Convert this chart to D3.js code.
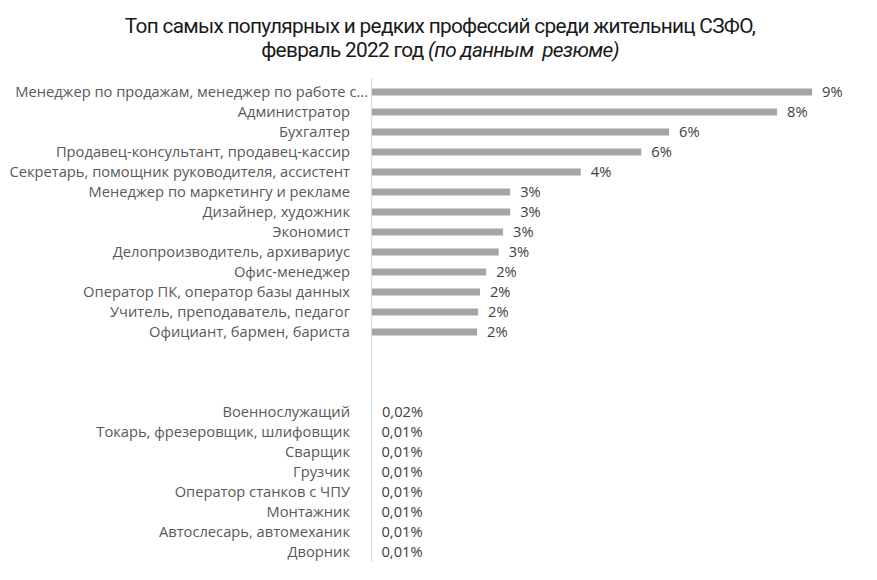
<!DOCTYPE html>
<html>
<head>
<meta charset="utf-8">
<script src="https://cdn.jsdelivr.net/npm/d3@7"></script>
<style>
  body { margin: 0; background: #fff; }
</style>
</head>
<body>
<script>
// top professions, then a gap, then the rarest ones
const professions = [
  'Менеджер по продажам, менеджер по работе с...',
  'Администратор',
  'Бухгалтер',
  'Продавец-консультант, продавец-кассир',
  'Секретарь, помощник руководителя, ассистент',
  'Менеджер по маркетингу и рекламе',
  'Дизайнер, художник',
  'Экономист',
  'Делопроизводитель, архивариус',
  'Офис-менеджер',
  'Оператор ПК, оператор базы данных',
  'Учитель, преподаватель, педагог',
  'Официант, бармен, бариста',
  '', '', '',
  'Военнослужащий',
  'Токарь, фрезеровщик, шлифовщик',
  'Сварщик',
  'Грузчик',
  'Оператор станков с ЧПУ',
  'Монтажник',
  'Автослесарь, автомеханик',
  'Дворник'
];
const shares = [
  9.19, 8.46, 6.21, 5.63, 4.37, 2.90, 2.90, 2.75, 2.66, 2.40, 2.27, 2.23, 2.21,
  null, null, null,
  0.02, 0.01, 0.01, 0.01, 0.01, 0.01, 0.01, 0.01
];
const valueLabels = [
  '9%', '8%', '6%', '6%', '4%', '3%', '3%', '3%', '3%', '2%', '2%', '2%', '2%',
  '', '', '',
  '0,02%', '0,01%', '0,01%', '0,01%', '0,01%', '0,01%', '0,01%', '0,01%'
];

const width = 877, height = 580;
const svg = d3.select('body').append('svg')
  .attr('width', width)
  .attr('height', height);

const x = d3.scaleLinear().domain([0, 10]).range([371, 851]);
const y = d3.scaleBand()
  .domain(d3.range(professions.length))
  .range([82, 562])
  .paddingInner(0.65)
  .paddingOuter(0.325);

// title
const title = svg.append('text')
  .attr('text-anchor', 'middle')
  .attr('font-family', 'Roboto, sans-serif')
  .attr('font-size', 20.8)
  .attr('fill', '#1a1a1a')
  .attr('letter-spacing', -0.7)
  .style('white-space', 'pre');
title.append('tspan').attr('x', 440).attr('y', 33)
  .text('Топ самых популярных и редких профессий среди жительниц СЗФО,');
const t2 = title.append('tspan').attr('x', 440).attr('y', 57);
t2.append('tspan').text('февраль 2022 год ');
t2.append('tspan').attr('font-style', 'italic').text('(по данным  резюме)');

// bars
const rows = d3.range(professions.length).filter(i => shares[i] !== null);
svg.append('g').selectAll('rect')
  .data(rows)
  .enter()
  .append('rect')
  .attr('x', x(0) + 0.5)
  .attr('y', i => y(i))
  .attr('width', i => Math.max(0, x(shares[i]) - x(0) - 0.5))
  .attr('height', y.bandwidth())
  .attr('fill', '#a5a5a5');

// category axis
const yAxis = d3.axisLeft(y)
  .tickSize(0)
  .tickPadding(21)
  .tickFormat(i => professions[i]);
const ga = svg.append('g')
  .attr('transform', `translate(${x(0)},0)`)
  .call(yAxis);
ga.select('.domain')
  .attr('stroke', '#d9d9d9')
  .attr('d', `M0.5,${y.range()[0] - 4}V${y.range()[1]}`);
ga.selectAll('text')
  .attr('font-family', '"Open Sans", sans-serif')
  .attr('font-size', 14.7)
  .attr('fill', '#595959');
// the truncated label runs on past the others, up to the axis
ga.selectAll('.tick').filter(i => i === 0).select('text').attr('dx', 18);

// value labels
svg.append('g').selectAll('text')
  .data(rows)
  .enter()
  .append('text')
  .attr('x', i => x(shares[i]) + 10)
  .attr('y', i => y(i) + y.bandwidth() / 2)
  .attr('dy', '0.35em')
  .attr('font-family', '"Open Sans", sans-serif')
  .attr('font-size', 14.7)
  .attr('fill', '#404040')
  .text(i => valueLabels[i]);
</script>
</body>
</html>
